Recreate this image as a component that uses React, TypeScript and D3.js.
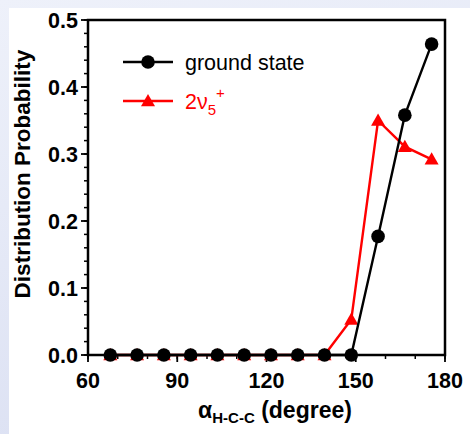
import React from "react";
import * as d3 from "d3";

const angles = [67.5, 76.5, 85.5, 94.5, 103.5, 112.5, 121.5, 130.5, 139.5, 148.5, 157.5, 166.5, 175.5];
const groundState = [0, 0, 0, 0, 0, 0, 0, 0, 0, 0, 0.177, 0.358, 0.464];
const excited = [0, 0, 0, 0, 0, 0, 0, 0, 0, 0.053, 0.35, 0.311, 0.292];
const xTicks = [60, 90, 120, 150, 180];
const yTicks = [0.0, 0.1, 0.2, 0.3, 0.4, 0.5];

const W = 470;
const H = 434;
const FONT = "'Liberation Sans', Arial, Helvetica, sans-serif";

export default function App() {
  const x = d3.scaleLinear().domain([60, 180]).range([88, 445]);
  const y = d3.scaleLinear().domain([0, 0.5]).range([355, 20]);

  const line = d3
    .line<[number, number]>()
    .x((d) => x(d[0]))
    .y((d) => y(d[1]));

  const gData: [number, number][] = angles.map((a, i) => [a, groundState[i]]);
  const rData: [number, number][] = angles.map((a, i) => [a, excited[i]]);

  const minorX = d3.range(60, 181, 10);
  const minorY = d3.range(0, 0.5001, 0.02);

  const tri = (cx: number, cy: number, s = 7) =>
    `M${cx},${cy - s} L${cx + s},${cy + s * 0.75} L${cx - s},${cy + s * 0.75} Z`;

  return (
    <div style={{ position: "absolute", left: 0, top: 0 }}>
      <svg width={W} height={H} style={{ display: "block" }}>
        <defs>
          <linearGradient id="bg" x1="0" y1="0" x2="0.3" y2="1">
            <stop offset="0" stopColor="#eef1fa" />
            <stop offset="1" stopColor="#dce1f3" />
          </linearGradient>
        </defs>
        <rect x={0} y={0} width={W} height={H} fill="url(#bg)" />
        <rect x={9} y={8} width={W - 9} height={H - 8} fill="#ffffff" />

        {/* minor ticks */}
        {minorY.map((v, i) => (
          <line key={"my" + i} x1={x(60) - 4} x2={x(60)} y1={y(v)} y2={y(v)} stroke="#000" strokeWidth={1.5} />
        ))}
        {minorX.map((v, i) => (
          <line key={"mx" + i} x1={x(v)} x2={x(v)} y1={y(0)} y2={y(0) + 4} stroke="#000" strokeWidth={1.5} />
        ))}
        {/* major ticks */}
        {yTicks.map((v, i) => (
          <line key={"ty" + i} x1={x(60) - 7} x2={x(60)} y1={y(v)} y2={y(v)} stroke="#000" strokeWidth={1.8} />
        ))}
        {xTicks.map((v, i) => (
          <line key={"tx" + i} x1={x(v)} x2={x(v)} y1={y(0)} y2={y(0) + 7} stroke="#000" strokeWidth={1.8} />
        ))}

        {/* tick labels */}
        {yTicks.map((v, i) => (
          <text
            key={"ly" + i}
            x={x(60) - 10}
            y={y(v)}
            dy="0.36em"
            textAnchor="end"
            fontFamily={FONT}
            fontWeight="bold"
            fontSize={21.5}
            fill="#000"
          >
            {v.toFixed(1)}
          </text>
        ))}
        {xTicks.map((v, i) => (
          <text
            key={"lx" + i}
            x={x(v)}
            y={388}
            textAnchor="middle"
            fontFamily={FONT}
            fontWeight="bold"
            fontSize={21.5}
            fill="#000"
          >
            {v}
          </text>
        ))}

        {/* series: red first, then black on top */}
        <path d={line(rData) || ""} fill="none" stroke="#ff0000" strokeWidth={2.4} />
        {rData.map((d, i) => (
          <path key={"rt" + i} d={tri(x(d[0]), y(d[1]))} fill="#ff0000" />
        ))}
        <path d={line(gData) || ""} fill="none" stroke="#000" strokeWidth={2.4} />
        {gData.map((d, i) => (
          <circle key={"gc" + i} cx={x(d[0])} cy={y(d[1])} r={6.8} fill="#000" />
        ))}

        {/* frame */}
        <rect x={x(60)} y={y(0.5)} width={x(180) - x(60)} height={y(0) - y(0.5)} fill="none" stroke="#000" strokeWidth={2.5} />

        {/* legend */}
        <line x1={123} x2={173} y1={62} y2={62} stroke="#000" strokeWidth={2.4} />
        <circle cx={148} cy={62} r={6.8} fill="#000" />
        <text x={185} y={69.5} fontFamily={FONT} fontSize={21.5} fill="#000">
          ground state
        </text>
        <line x1={123} x2={173} y1={101} y2={101} stroke="#ff0000" strokeWidth={2.4} />
        <path d={tri(148, 101)} fill="#ff0000" />
        <text x={185} y={108.5} fontFamily={FONT} fontSize={21.5} fill="#ff0000">
          2ν
          <tspan fontSize={15} dy={6}>5</tspan>
          <tspan fontSize={15} dy={-17}>+</tspan>
        </text>

        {/* axis titles */}
        <text
          transform={`translate(30,174) rotate(-90)`}
          textAnchor="middle"
          fontFamily={FONT}
          fontWeight="bold"
          fontSize={22.5}
          fill="#000"
        >
          Distribution Probability
        </text>
        <text x={275} y={418} textAnchor="middle" fontFamily={FONT} fontWeight="bold" fontSize={23} fill="#000">
          α
          <tspan fontSize={15} dy={5}>H-C-C</tspan>
          <tspan dy={-5}> (degree)</tspan>
        </text>
      </svg>
    </div>
  );
}
